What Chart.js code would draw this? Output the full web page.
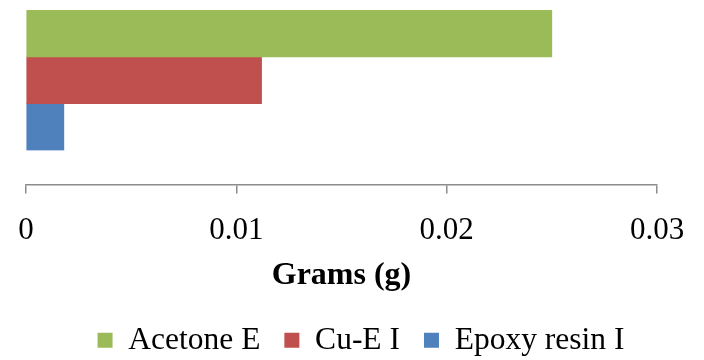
<!DOCTYPE html>
<html>
<head>
<meta charset="utf-8">
<script src="https://cdn.jsdelivr.net/npm/chart.js@4"></script>
<style>
  html, body { margin: 0; padding: 0; background: #fff; }
  #wrap { width: 704px; height: 360px; }
</style>
</head>
<body>
<div id="wrap"><canvas id="chart" width="704" height="360"></canvas></div>
<script>
// data
const categories = [''];
const seriesNames = ['Acetone E', 'Cu-E I', 'Epoxy resin I'];
const seriesColors = ['#9BBB59', '#C0504D', '#4F81BD'];
const acetoneE = [0.025];
const cuEI = [0.0112];
const epoxyResinI = [0.0018];
const xTicks = [0, 0.01, 0.02, 0.03];

const serif = 'Liberation Serif, Times New Roman, serif';
const axisGray = '#8c8c8c';

// axes that only hold space (no ticks, no lines)
const spacer = (width) => ({
    grid: { display: false },
    border: { display: false },
    ticks: { display: false },
    afterFit: (scale) => { scale.width = width; }
});

new Chart(document.getElementById('chart'), {
    type: 'bar',
    data: {
        labels: categories,
        datasets: [
            { label: seriesNames[0], data: acetoneE, backgroundColor: seriesColors[0] },
            { label: seriesNames[1], data: cuEI, backgroundColor: seriesColors[1] },
            { label: seriesNames[2], data: epoxyResinI, backgroundColor: seriesColors[2] }
        ]
    },
    options: {
        responsive: false,
        animation: false,
        indexAxis: 'y',
        barPercentage: 1,
        categoryPercentage: 1,
        layout: { padding: { left: 18, right: 0, top: 10, bottom: -6 } },
        scales: {
            x: {
                min: xTicks[0],
                max: xTicks[xTicks.length - 1],
                afterBuildTicks: (scale) => { scale.ticks = xTicks.map(v => ({ value: v })); },
                afterFit: (scale) => {
                    scale.height = 116;
                    scale.paddingLeft = 0;
                    scale.paddingRight = 0;
                },
                ticks: {
                    color: '#000',
                    font: { family: serif, size: 31, lineHeight: 1 },
                    padding: 22,
                    callback: (v) => String(v)
                },
                grid: { drawOnChartArea: false, tickLength: 9, color: axisGray, lineWidth: 1.5 },
                border: { color: axisGray, width: 1.5 },
                title: {
                    display: true,
                    text: 'Grams (g)',
                    color: '#000',
                    font: { family: serif, size: 32, weight: 'bold', lineHeight: 1 },
                    padding: { top: 0, bottom: 9 }
                }
            },
            y: Object.assign({ stack: 'rows', stackWeight: 140, weight: 2 }, spacer(8)),
            yGap: {
                type: 'linear',
                display: false,
                position: 'left',
                stack: 'rows',
                stackWeight: 34,
                weight: 1
            },
            yRight: Object.assign({ type: 'linear', position: 'right' }, spacer(47))
        },
        plugins: {
            legend: {
                position: 'bottom',
                labels: {
                    color: '#000',
                    font: { family: serif, size: 31.5 },
                    boxWidth: 15,
                    boxHeight: 15,
                    padding: 24
                }
            },
            tooltip: { enabled: false }
        }
    }
});
</script>
</body>
</html>
